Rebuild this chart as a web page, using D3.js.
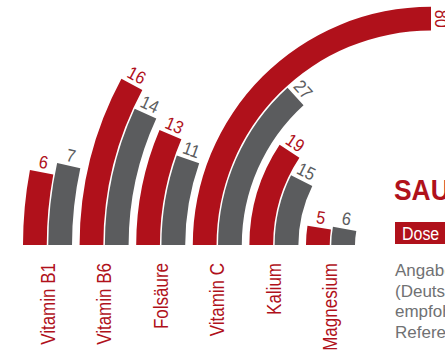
<!DOCTYPE html>
<html>
<head>
<meta charset="UTF-8">
<title>Dose</title>
<style>
  body { margin: 0; background: #fff; }
  svg { display: block; font-family: 'Liberation Sans', Arial, sans-serif; }
</style>
</head>
<body>
<div id="app"></div>
<script src="https://d3js.org/d3.v7.min.js"></script>
<script>
let categories = ['Vitamin B1', 'Vitamin B6', 'Folsäure', 'Vitamin C', 'Kalium', 'Magnesium']
let seriesNames = ['red', 'gray']
let valuesRed = [6, 16, 13, 80, 19, 5]
let valuesGray = [7, 14, 11, 27, 15, 6]
let noteLines = ['Angaben', '(Deutsche', 'empfohlene', 'Referenzwerte']

let W = 445
let H = 354
let cx = 431
let cy = 245
let colors = { red: '#b0111b', gray: '#5b5c5e' }

let svg = d3.select('#app').append('svg')
  .attr('width', W)
  .attr('height', H)

let x0 = d3.scaleBand().domain(categories).range([23, 355]).paddingInner(0.134)
let x1 = d3.scaleBand().domain(seriesNames).range([0, x0.bandwidth()]).paddingInner(0.06)
// bars bend around a common centre; value -> swept angle
let angle = d3.scaleLinear().domain([0, 51]).range([0, Math.PI / 2]).clamp(true)

let rows = []
categories.forEach((c, i) => {
  rows.push({ cat: c, s: 'red', value: valuesRed[i] })
  rows.push({ cat: c, s: 'gray', value: valuesGray[i] })
})
rows.forEach(d => {
  d.r1 = cx - (x0(d.cat) + x1(d.s))
  d.r0 = d.r1 - x1.bandwidth()
})

let arc = d3.arc()
  .innerRadius(d => d.r0)
  .outerRadius(d => d.r1)
  .startAngle(-Math.PI / 2)
  .endAngle(d => -Math.PI / 2 + angle(d.value))

let g = svg.append('g').attr('transform', 'translate(' + cx + ',' + cy + ')')

g.selectAll('path.bar')
  .data(rows).enter()
  .append('path')
  .attr('class', 'bar')
  .attr('d', arc)
  .attr('fill', d => colors[d.s])

g.selectAll('text.val')
  .data(rows).enter()
  .append('text')
  .attr('class', 'val')
  .attr('transform', d => {
    let rm = (d.r0 + d.r1) / 2
    let a = -Math.PI / 2 + angle(d.value) + 4 / rm
    let px = rm * Math.sin(a)
    let py = -rm * Math.cos(a)
    return 'translate(' + px + ',' + py + ') rotate(' + (angle(d.value) * 180 / Math.PI) + ') scale(0.9,1)'
  })
  .attr('text-anchor', 'middle')
  .attr('font-size', 18)
  .attr('fill', d => colors[d.s])
  .text(d => d.value)

svg.selectAll('text.cat')
  .data(categories).enter()
  .append('text')
  .attr('class', 'cat')
  .attr('transform', d => 'translate(' + (x0(d) + x0.bandwidth() / 2) + ',263) rotate(-90) scale(0.85,1)')
  .attr('text-anchor', 'end')
  .attr('dy', '0.35em')
  .attr('font-size', 20)
  .attr('fill', colors.red)
  .text(d => d)

// right-hand title block (cut off by the frame)
svg.append('text')
  .attr('transform', 'translate(394,200) scale(0.88,1)')
  .attr('font-size', 30)
  .attr('font-weight', 'bold')
  .attr('fill', colors.red)
  .text('SAU')

svg.append('rect')
  .attr('x', 395)
  .attr('y', 222)
  .attr('width', 60)
  .attr('height', 22)
  .attr('fill', colors.red)

svg.append('text')
  .attr('transform', 'translate(402,240) scale(0.84,1)')
  .attr('font-size', 19)
  .attr('fill', '#fff')
  .text('Dose')

svg.selectAll('text.note')
  .data(noteLines).enter()
  .append('text')
  .attr('class', 'note')
  .attr('x', 395)
  .attr('y', (d, i) => 276 + i * 20.5)
  .attr('font-size', 17)
  .attr('fill', '#707173')
  .text(d => d)
</script>
</body>
</html>
